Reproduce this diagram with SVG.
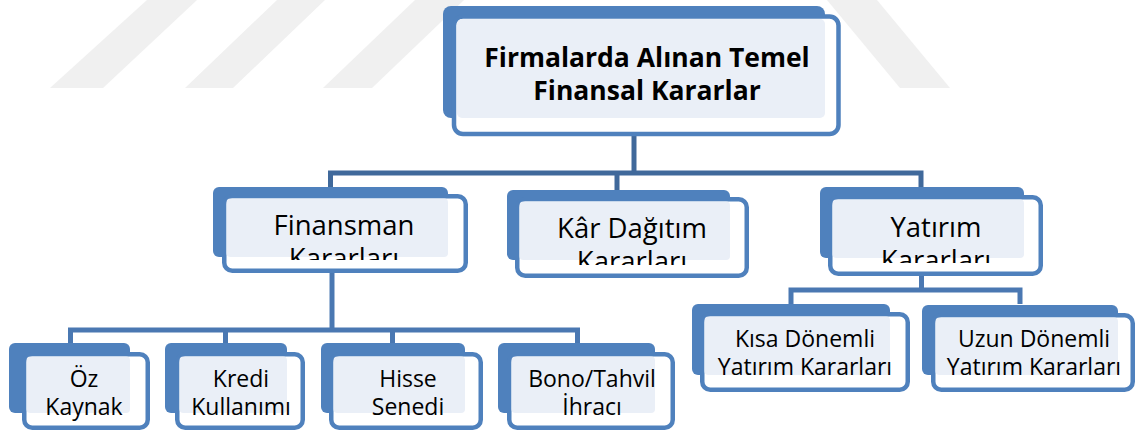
<svg xmlns="http://www.w3.org/2000/svg" width="1141" height="433" viewBox="0 0 1141 433">
<defs>
<style>
.back{fill:#4f81bd}
.front{fill:#ffffff;stroke:#4f81bd;stroke-width:4.5}
.light{fill:#eaeff7}
.t{font-family:"Open Sans","Noto Sans",sans-serif;fill:#000;text-anchor:middle}
.t1{font-size:26.5px;font-weight:bold}
.t2{font-size:27.5px}
.t3{font-size:23px}
.con{fill:none;stroke:#40699b;stroke-width:5}
.conl{fill:none;stroke:#4a78b2;stroke-width:5}
.wm{fill:#f0f0f0}
</style>
<clipPath id="c1"><rect x="200" y="180" width="300" height="80"/></clipPath>
<clipPath id="c2"><rect x="500" y="180" width="260" height="85"/></clipPath>
<clipPath id="c3"><rect x="810" y="180" width="240" height="83"/></clipPath>
</defs>
<rect width="1141" height="433" fill="#ffffff"/>
<g id="watermark">
<polygon class="wm" points="50,88 103,88 197,0 147,0"/>
<polygon class="wm" points="185,88 233,88 325,0 277,0"/>
<polygon class="wm" points="323,88 372,88 464,0 415,0"/>
<polygon class="wm" points="827,0 877,0 950,88 900,88"/>
</g>
<g id="connectors">
<rect x="631.5" y="123" width="5" height="11" fill="#d6dfec"/>
<path class="con" d="M634,136 V173"/>
<path class="con" d="M330.5,188 V173 H921 V188"/>
<path class="con" d="M617,173 V190"/>
<rect x="329.5" y="262" width="5" height="8" fill="#d6dfec"/>
<path class="conl" d="M332,273 V330"/>
<path class="conl" d="M70.5,343 V330 H577.5 V343"/>
<path class="conl" d="M225.5,330 V343"/>
<path class="conl" d="M392.5,330 V343"/>
<rect x="919" y="264" width="5" height="7" fill="#d6dfec"/>
<path class="conl" d="M921.5,276 V290"/>
<path class="conl" d="M791,304 V290 H1020 V304"/>
</g>
<g id="n-root">
<rect class="back" x="443" y="6" width="382" height="112" rx="8"/>
<rect class="front" x="454" y="16.5" width="384.5" height="117.5" rx="9"/>
<rect class="light" x="457" y="19" width="368" height="99" rx="5"/>
<text class="t t1" x="647" y="67">Firmalarda Alınan Temel</text>
<text class="t t1" x="647" y="100">Finansal Kararlar</text>
</g>
<g id="n-finansman">
<rect class="back" x="213" y="187" width="235" height="70" rx="6"/>
<rect class="front" x="224.25" y="196.25" width="241.5" height="74.5" rx="8"/>
<rect class="light" x="226.5" y="198.5" width="221.5" height="58.5" rx="4"/>
<g clip-path="url(#c1)">
<text class="t t2" x="344" y="235">Finansman</text>
<text class="t t2" x="344" y="268">Kararları</text>
</g>
</g>
<g id="n-kar">
<rect class="back" x="507" y="190" width="223" height="70" rx="6"/>
<rect class="front" x="517.25" y="199.25" width="229.5" height="76.5" rx="8"/>
<rect class="light" x="519.5" y="201.5" width="210.5" height="58.5" rx="4"/>
<g clip-path="url(#c2)">
<text class="t t2" x="632" y="238">Kâr Dağıtım</text>
<text class="t t2" x="632" y="271">Kararları</text>
</g>
</g>
<g id="n-yatirim">
<rect class="back" x="820" y="187" width="204" height="71" rx="6"/>
<rect class="front" x="830.25" y="197.25" width="210.5" height="76.5" rx="8"/>
<rect class="light" x="832.5" y="199.5" width="191.5" height="58.5" rx="4"/>
<g clip-path="url(#c3)">
<text class="t t2" x="936" y="237">Yatırım</text>
<text class="t t2" x="936" y="270">Kararları</text>
</g>
</g>
<g id="n-kisa">
<rect class="back" x="692" y="304" width="198" height="71" rx="6"/>
<rect class="front" x="702.25" y="314.25" width="205.5" height="75.5" rx="8"/>
<rect class="light" x="704.5" y="316.5" width="185.5" height="58.5" rx="4"/>
<text class="t t3" x="805" y="347">Kısa Dönemli</text>
<text class="t t3" x="805" y="375">Yatırım Kararları</text>
</g>
<g id="n-uzun">
<rect class="back" x="922" y="305" width="196" height="70" rx="6"/>
<rect class="front" x="933.25" y="315.25" width="199.5" height="74.5" rx="8"/>
<rect class="light" x="935.5" y="317.5" width="182.5" height="57.5" rx="4"/>
<text class="t t3" x="1034" y="347">Uzun Dönemli</text>
<text class="t t3" x="1034" y="375">Yatırım Kararları</text>
</g>
<g id="n-oz">
<rect class="back" x="9" y="343" width="121" height="70" rx="6"/>
<rect class="front" x="24.25" y="354.25" width="123.5" height="73.5" rx="8"/>
<rect class="light" x="26.5" y="356.5" width="103.5" height="56.5" rx="4"/>
<text class="t t3" x="84" y="387">Öz</text>
<text class="t t3" x="84" y="415">Kaynak</text>
</g>
<g id="n-kredi">
<rect class="back" x="165" y="343" width="122" height="70" rx="6"/>
<rect class="front" x="177.25" y="354.25" width="125.5" height="73.5" rx="8"/>
<rect class="light" x="179.5" y="356.5" width="107.5" height="56.5" rx="4"/>
<text class="t t3" x="241" y="387">Kredi</text>
<text class="t t3" x="241" y="415">Kullanımı</text>
</g>
<g id="n-hisse">
<rect class="back" x="321" y="343" width="144" height="70" rx="6"/>
<rect class="front" x="331.25" y="354.25" width="149.5" height="73.5" rx="8"/>
<rect class="light" x="333.5" y="356.5" width="131.5" height="56.5" rx="4"/>
<text class="t t3" x="408" y="387">Hisse</text>
<text class="t t3" x="408" y="415">Senedi</text>
</g>
<g id="n-bono">
<rect class="back" x="498" y="343" width="157" height="70" rx="6"/>
<rect class="front" x="509.25" y="354.25" width="163.5" height="73.5" rx="8"/>
<rect class="light" x="511.5" y="356.5" width="143.5" height="56.5" rx="4"/>
<text class="t t3" x="592" y="387">Bono/Tahvil</text>
<text class="t t3" x="592" y="415">İhracı</text>
</g>
</svg>
